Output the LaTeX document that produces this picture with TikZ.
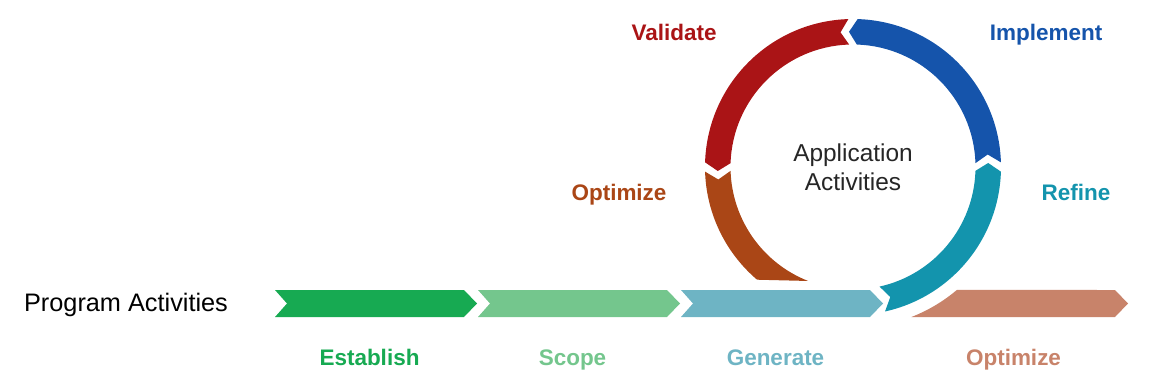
\documentclass[tikz,border=0pt]{standalone}
\usepackage{fontspec}
\setmainfont{Liberation Sans}
\usetikzlibrary{calc,positioning}
\definecolor{establish}{RGB}{23,170,82}
\definecolor{scope}{RGB}{116,198,141}
\definecolor{generate}{RGB}{110,180,196}
\definecolor{refine}{RGB}{19,148,173}
\definecolor{implement}{RGB}{21,84,171}
\definecolor{validate}{RGB}{170,20,22}
\definecolor{optimize}{RGB}{170,70,22}
\definecolor{optfinal}{RGB}{200,131,106}
\newcommand\Rout{148}
\newcommand\Rin{122.5}
\newcommand\Rmid{135.25}
\newcommand\Gap{1.8}
\newcommand\Tip{3.5}
\tikzset{
  every picture/.style = {x=0.02cm, y=0.02cm},
  phase/.style={
    font = \fontsize{12.8}{15}\selectfont\bfseries,
    anchor = base,
    inner sep=2pt
  },
  plain/.style={
    font = \fontsize{14.4}{17}\selectfont,
    anchor = base,
    inner sep=2pt
  },
  centre/.style={
    font = \fontsize{13.9}{16.5}\selectfont,
    text = black!85,
    align = center,
    inner sep=2pt
  }
}
% ring piece: colour, from angle, to angle (notch at start, tip at end)
\newcommand{\ringpiece}[3]{%
  \fill[#1] (#2+\Gap+\Tip:\Rmid) -- (#2+\Gap:\Rout)
    arc[start angle=#2+\Gap, end angle=#3-\Gap, radius=\Rout]
    -- (#3-\Gap+\Tip:\Rmid) -- (#3-\Gap:\Rin)
    arc[start angle=#3-\Gap, end angle=#2+\Gap, radius=\Rin] -- cycle;}

\begin{document}
\begin{tikzpicture}
  \useasboundingbox (0,0) rectangle (1150,383);

  % program activities
  \foreach \i/\col/\txt in {0/establish/Establish,1/scope/Scope,2/generate/Generate}{
    \pgfmathsetmacro\xa{275+203*\i}
    \fill[\col] (\xa,93) --++ (189,0) --++ (13,-13.5) --++ (-13,-13.5)
      --++ (-189,0) --++ (12,13.5) -- cycle;
    \node[phase, text=\col] (lbl\i) at (\xa+94.5,18) {\txt};
  }
  \fill[optfinal] (911.4,66) arc[start angle=-68.7, end angle=-49.8, radius=161]
    -- (1115,93) --++ (13,-13.5) --++ (-13,-13.5) -- cycle;
  \node[phase, text=optfinal] (lbl3) at (1013.5,18) {Optimize};

  \node[plain] (prog) at (126,72) {Program Activities};

  % application activities
  \begin{scope}[shift={(853,216)}]
    \ringpiece{refine}{-79.3}{0}
    \ringpiece{implement}{0}{90}
    \ringpiece{validate}{90}{180}
    \fill[optimize] (180+\Gap+\Tip:\Rmid) -- (180+\Gap:\Rout)
      arc[start angle=180+\Gap, end angle=229.6, radius=\Rout]
      -- (248.5:\Rin) arc[start angle=248.5, end angle=180+\Gap, radius=\Rin] -- cycle;
    \node[centre] (app) at (0,-0.5) {Application\\Activities};
  \end{scope}

  \node[phase, text=validate] (val) at (674,343) {Validate};
  \node[phase, text=implement] (imp) at (1046,343) {Implement};
  \node[phase, text=optimize] (opt) at (619,183) {Optimize};
  \node[phase, text=refine] (ref) at (1076,183) {Refine};
\end{tikzpicture}
\end{document}
